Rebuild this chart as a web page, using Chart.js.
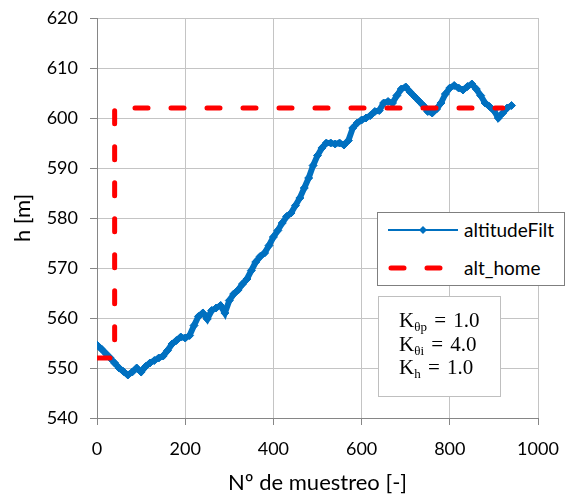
<!DOCTYPE html>
<html><head><meta charset="utf-8">
<script src="https://cdn.jsdelivr.net/npm/chart.js@4/dist/chart.umd.min.js"></script>
<style>
html,body{margin:0;padding:0;background:#fff;}
#wrap{position:relative;width:569px;height:499px;overflow:hidden;}
#c{position:absolute;left:0;top:0;}
#legend{position:absolute;left:377px;top:212px;width:186px;height:72px;border:1px solid #7f7f7f;background:#fff;font-family:Lato,sans-serif;font-size:19px;color:#000;}
#legend .row{position:absolute;left:0;height:24px;line-height:24px;width:186px;}
#legend svg{position:absolute;left:10px;top:0;}
#legend span{position:absolute;left:86px;top:0;}
#note{position:absolute;left:378px;top:296px;width:121px;height:99px;border:1px solid #bfbfbf;background:#fff;font-family:"Liberation Serif",serif;font-size:21px;color:#000;}
#note div{position:absolute;left:20px;height:24px;line-height:24px;white-space:nowrap;word-spacing:2px;}
#note sub{font-size:13px;vertical-align:-4px;line-height:0;word-spacing:0;}
</style>
</head><body>
<div id="wrap">
<canvas id="c" width="569" height="499"></canvas>
<div id="legend">
  <div class="row" style="top:5px"><svg width="72" height="24"><line x1="0" y1="12" x2="70" y2="12" stroke="#0070C0" stroke-width="2"/><polygon points="35,8 39,12 35,16 31,12" fill="#0070C0"/></svg><span>altitudeFilt</span></div>
  <div class="row" style="top:43px"><svg width="72" height="24"><line x1="3" y1="12" x2="70" y2="12" stroke="#FF0000" stroke-width="5" stroke-linecap="round" stroke-dasharray="13 23"/></svg><span>alt_home</span></div>
</div>
<div id="note">
  <div style="top:11px">K<sub>θp</sub> = 1.0</div>
  <div style="top:35px">K<sub>θi</sub> = 4.0</div>
  <div style="top:58px">K<sub>h</sub> = 1.0</div>
</div>
</div>
<script>
const sampleIdx = [0,10,20,30,40,50,60,70,80,90,100,110,120,130,140,150,160,170,180,190,200,210,220,230,240,250,260,270,280,290,300,310,320,330,340,350,360,370,380,390,400,410,420,430,440,450,460,470,480,490,500,510,520,530,540,550,560,570,580,590,600,610,620,630,640,650,660,670,680,690,700,710,720,730,740,750,760,770,780,790,800,810,820,830,840,850,860,870,880,890,900,910,920,930,940];
const altitudeFilt = [554.6,553.8,552.9,552.0,551.0,550.0,549.3,548.6,549.2,550.0,549.2,550.3,551.0,551.5,552.0,552.4,553.5,554.8,555.5,556.2,556.0,556.5,558.5,560.3,561.0,559.8,561.5,562.0,562.5,561.0,563.5,564.8,565.6,566.8,567.8,569.5,571.2,572.3,573.0,574.5,576.2,577.5,579.0,580.3,581.0,582.5,584.0,586.0,588.0,590.5,592.5,594.0,595.0,595.0,594.8,595.0,594.6,595.5,598.0,599.0,599.6,600.0,600.5,601.3,601.5,603.0,603.3,603.0,604.5,605.8,606.2,605.2,604.3,603.4,602.5,601.3,601.0,601.8,603.0,604.8,606.0,606.5,606.0,605.6,606.3,606.8,605.8,604.5,603.0,602.3,601.5,600.0,601.0,602.0,602.5];
const homeX = [0,40,40,920];
const homeY = [552,552,602,602];
const xTicks = [0,200,400,600,800,1000];
const yTicks = [540,550,560,570,580,590,600,610,620];

const blue = '#0070C0', red = '#FF0000';
const tickFont = {family:'Lato', size:18};
const titleFont = {family:'Lato', size:22};
new Chart(document.getElementById('c'), {
  type: 'line',
  data: {
    datasets: [
      { label:'altitudeFilt', data: sampleIdx.map((x,i)=>({x, y: altitudeFilt[i]})),
        borderColor: blue, backgroundColor: blue, borderWidth: 6, pointStyle: 'rectRot',
        pointRadius: 4, pointBorderWidth: 1, pointBorderColor: blue, pointBackgroundColor: blue,
        tension: 0, order: 1 },
      { label:'alt_home', data: homeX.map((x,i)=>({x, y: homeY[i]})),
        borderColor: red, borderWidth: 5, borderDash: [13,23], borderCapStyle: 'round',
        pointRadius: 0, tension: 0, order: 0 }
    ]
  },
  options: {
    responsive: false, animation: false, events: [],
    layout: { padding: { top: 18, right: 31, left: 0, bottom: 0 } },
    plugins: { legend: { display: false }, tooltip: { enabled: false } },
    scales: {
      x: { type: 'linear', min: 0, max: 1000,
        afterBuildTicks: s => { s.ticks = xTicks.map(v => ({value: v})); },
        afterFit: s => { s.height = 81; s.paddingLeft = 0; s.paddingRight = 0; },
        ticks: { font: tickFont, color: '#000', padding: 13, maxRotation: 0, callback: v => String(v) },
        grid: { color: '#c4c4c4', lineWidth: 1, tickLength: 7, tickColor: '#868686' },
        border: { color: '#868686', width: 1 },
        title: { display: true, text: 'Nº de muestreo [-]', font: titleFont, color:'#000', padding: { top: 0, bottom: 3 } } },
      y: { type: 'linear', min: 540, max: 620,
        afterBuildTicks: s => { s.ticks = yTicks.map(v => ({value: v})); },
        afterFit: s => { s.width = 97; s.paddingTop = 0; s.paddingBottom = 0; },
        ticks: { font: tickFont, color: '#000', padding: 12, callback: v => String(v) },
        grid: { color: '#c4c4c4', lineWidth: 1, tickLength: 7, tickColor: '#868686' },
        border: { color: '#868686', width: 1 },
        title: { display: true, text: 'h [m]', font: titleFont, color:'#000', padding: { top: 10, bottom: 0 } } }
    }
  }
});
</script>
</body></html>
